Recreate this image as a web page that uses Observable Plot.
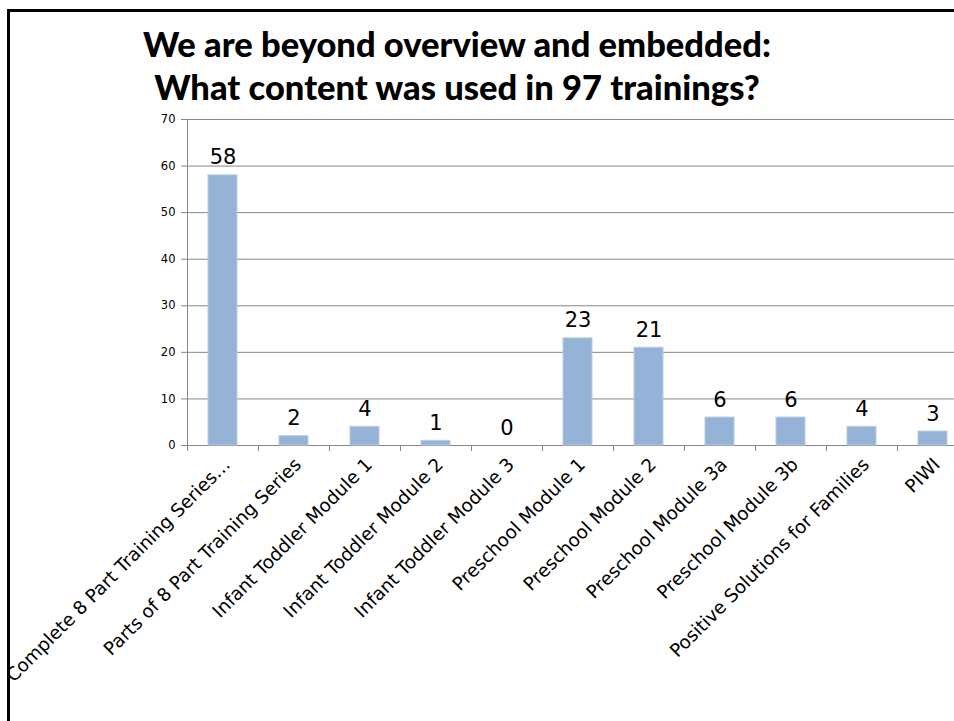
<!DOCTYPE html>
<html>
<head>
<meta charset="utf-8">
<script src="https://cdn.jsdelivr.net/npm/d3@7"></script>
<script src="https://cdn.jsdelivr.net/npm/@observablehq/plot@0.6"></script>
<style>
  html, body { margin: 0; padding: 0; background: #fff; overflow: hidden; width: 954px; height: 721px; }
  #frame { position: absolute; left: 7px; top: 9px; width: 1000px; height: 800px;
           border-top: 3px solid #000; border-left: 3px solid #000; pointer-events: none; z-index: 0; }
  #title { position: relative; height: 110px; width: 914px; text-align: center;
           font-family: Lato, sans-serif; font-weight: 900; font-size: 34.5px; line-height: 43px;
           padding-top: 22px; box-sizing: border-box; color: #000; z-index: 1; }
  #chart { position: relative; z-index: 1; }
  #chart svg { max-width: none; background: transparent; }
</style>
</head>
<body>
<div id="frame"></div>
<div id="title">We are beyond overview and embedded:<br>What content was used in 97 trainings?</div>
<div id="chart"></div>
<script>
const categories = [
  "Complete 8 Part Training Series…",
  "Parts of 8 Part Training Series",
  "Infant Toddler Module 1",
  "Infant Toddler Module 2",
  "Infant Toddler Module 3",
  "Preschool Module 1",
  "Preschool Module 2",
  "Preschool Module 3a",
  "Preschool Module 3b",
  "Positive Solutions for Families",
  "PIWI"
];
const counts = [58, 2, 4, 1, 0, 23, 21, 6, 6, 4, 3];
const yTicks = [0, 10, 20, 30, 40, 50, 60, 70];

const data = categories.map((c, i) => ({category: c, count: counts[i]}));

const width = 975, height = 611;
const marginLeft = 187, marginRight = 7, marginTop = 9, marginBottom = 276;
const step = (width - marginLeft - marginRight) / categories.length;
const labelFont = "'DejaVu Sans', sans-serif";

const plot = Plot.plot({
  width, height, marginLeft, marginRight, marginTop, marginBottom,
  style: {fontFamily: labelFont, background: "transparent", overflow: "visible"},
  x: {domain: categories, paddingInner: 0.59, paddingOuter: 0.295, axis: null, label: null},
  y: {domain: [0, 70], axis: null, label: null},
  marks: [
    Plot.gridY(yTicks, {stroke: "#868686", strokeOpacity: 1}),
    Plot.ruleY([0], {stroke: "#868686"}),
    Plot.ruleX([categories[0]], {x: d => d, y1: 0, y2: 70, dx: -step / 2, stroke: "#868686"}),
    Plot.ruleX(categories, {x: d => d, y1: 0, y2: 0, insetBottom: -6, dx: -step / 2, stroke: "#868686"}),
    Plot.axisY(yTicks, {tickSize: 6, tickPadding: 6, fontSize: 11.5, stroke: "#868686", color: "#000", anchor: "left", label: null}),
    Plot.barY(data, {x: "category", y: "count", fill: "#95b3d7", stroke: "#b8cce4", strokeWidth: 1}),
    Plot.text(data, {x: "category", y: "count", text: d => String(d.count), dy: -11, lineAnchor: "bottom", fontSize: 21, fill: "#000"}),
    Plot.axisX({tickSize: 0, tickPadding: 16, tickRotate: -45, fontSize: 18.4, dx: 4, color: "#000", label: null})
  ]
});
document.getElementById("chart").appendChild(plot);
</script>
</body>
</html>
